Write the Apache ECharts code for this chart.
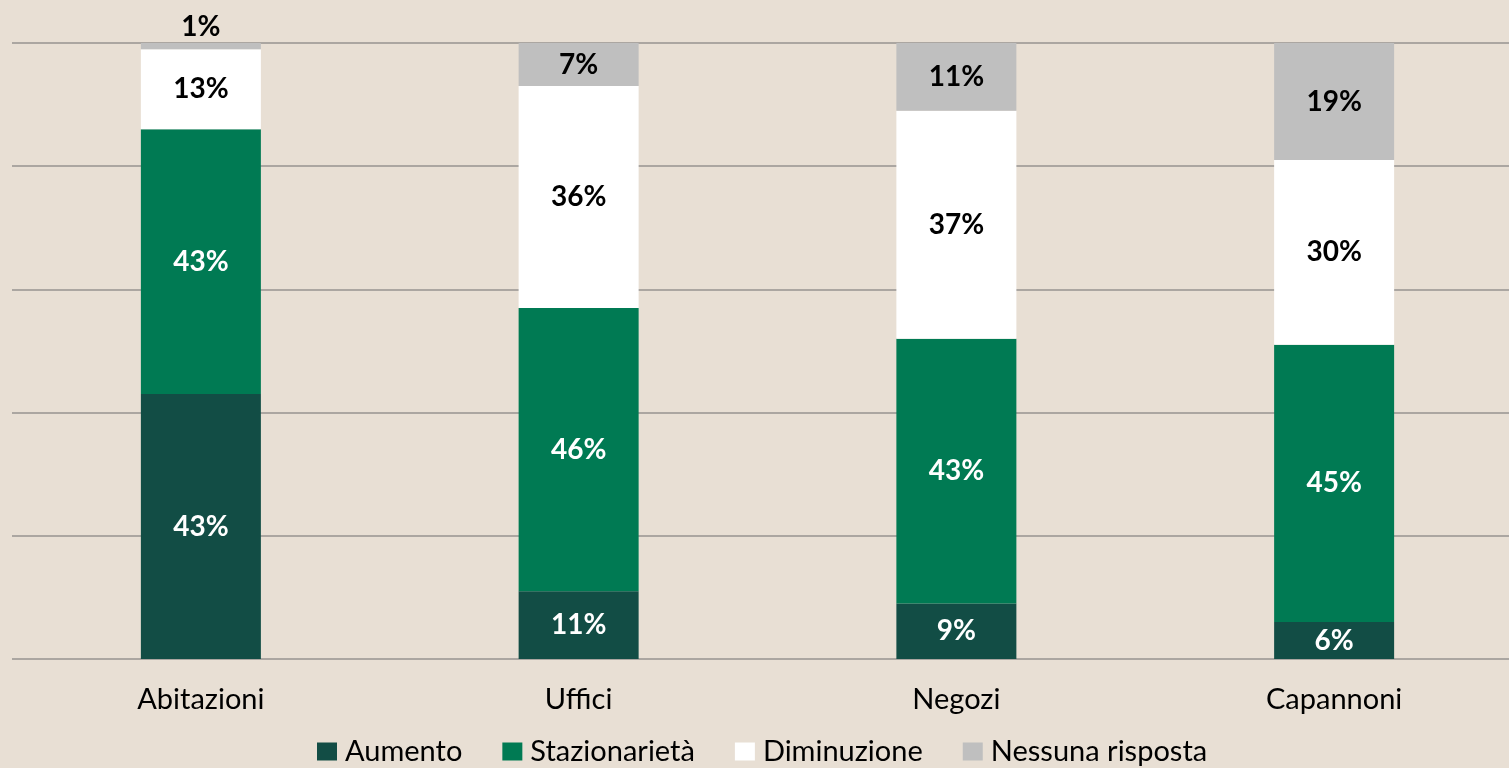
<!DOCTYPE html>
<html>
<head>
<meta charset="utf-8">
<script src="https://cdn.jsdelivr.net/npm/echarts@6/dist/echarts.min.js"></script>
<style>
  html, body { margin: 0; padding: 0; background: #e8dfd4; overflow: hidden; }
  /* chart is a bit wider than the window: the last category runs past the right edge */
  #chart { width: 1523px; height: 768px; }
</style>
</head>
<body>
<div id="chart"></div>
<script>
// categories and series values (percent)
const categories = ['Abitazioni', 'Uffici', 'Negozi', 'Capannoni'];
const aumento = [43, 11, 9, 6];
const stazionarieta = [43, 46, 43, 45];
const diminuzione = [13, 36, 37, 30];
const nessunaRisposta = [1, 7, 11, 19];

const FONT = 'Lato, "Open Sans", sans-serif';

const chart = echarts.init(document.getElementById('chart'), null, { renderer: 'canvas' });

const makeSeries = (name, data, color, labelColor) => ({
    name: name,
    type: 'bar',
    stack: 'total',
    barWidth: 120,
    itemStyle: { color: color },
    label: {
        show: true,
        position: 'inside',
        formatter: p => p.value + '%',
        color: labelColor,
        fontFamily: FONT,
        fontWeight: 'bold',
        fontSize: 28
    },
    data: data
});

// tiny segments get their label above the bar
const nessunaData = nessunaRisposta.map(v => v < 3
    ? { value: v, label: { position: 'top', distance: 2 } }
    : v);

chart.setOption({
    backgroundColor: '#e8dfd4',
    animation: false,
    grid: { left: 12, right: 0, top: 43, bottom: 109 },
    legend: {
        top: 732,
        left: 312,
        itemWidth: 20,
        itemHeight: 18,
        itemGap: 40,
        icon: 'rect',
        textStyle: { fontFamily: FONT, fontSize: 29, color: '#000', padding: [0, 0, 0, 3] },
        data: ['Aumento', 'Stazionarietà', 'Diminuzione', 'Nessuna risposta']
    },
    xAxis: {
        type: 'category',
        data: categories,
        axisLine: { show: false },
        axisTick: { show: false },
        axisLabel: { fontFamily: FONT, fontSize: 29, color: '#000', margin: 26 }
    },
    yAxis: {
        type: 'value',
        min: 0,
        max: 100,
        interval: 20,
        axisLabel: { show: false },
        axisLine: { show: false },
        axisTick: { show: false },
        splitLine: { lineStyle: { color: '#aba6a1', width: 2 } }
    },
    series: [
        makeSeries('Aumento', aumento, '#124d45', '#fff'),
        makeSeries('Stazionarietà', stazionarieta, '#007a53', '#fff'),
        makeSeries('Diminuzione', diminuzione, '#ffffff', '#000'),
        makeSeries('Nessuna risposta', nessunaData, '#bfbfbf', '#000')
    ]
});
</script>
</body>
</html>
